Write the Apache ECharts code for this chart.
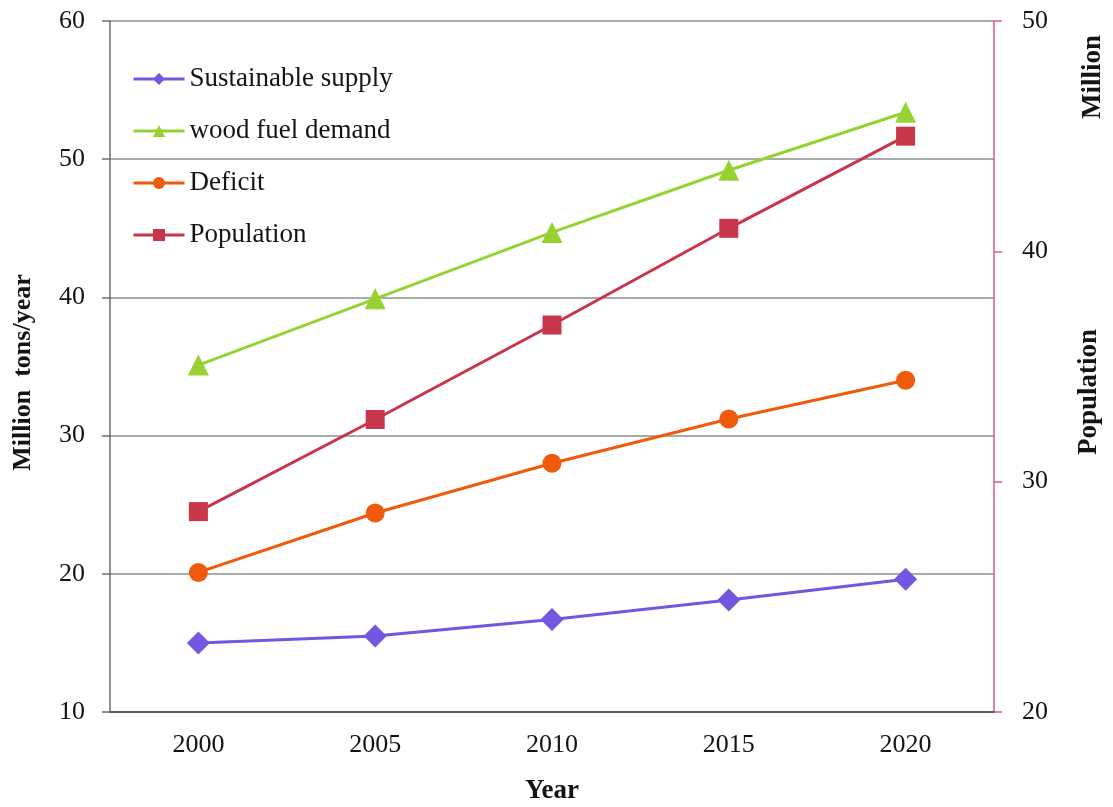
<!DOCTYPE html>
<html>
<head>
<meta charset="utf-8">
<title>Wood fuel supply, demand and population</title>
<script src="https://cdn.jsdelivr.net/npm/echarts@6/dist/echarts.min.js"></script>
<style>
  html, body { margin: 0; padding: 0; background: #ffffff; }
  #chart { width: 1113px; height: 807px; }
</style>
</head>
<body>
<div id="chart"></div>
<script>
// Years on the category axis
const years = ['2000', '2005', '2010', '2015', '2020'];

// Million tons/year (left axis)
const sustainableSupply = [15.0, 15.5, 16.7, 18.1, 19.6];
const woodFuelDemand    = [35.1, 39.9, 44.7, 49.2, 53.4];
const deficit           = [20.1, 24.4, 28.0, 31.2, 34.0];

// Population in millions (right axis)
const population        = [28.7, 32.7, 36.8, 41.0, 45.0];

// Axis ranges
const leftAxisRange  = { min: 10, max: 60, interval: 10 };
const rightAxisRange = { min: 20, max: 50, interval: 10 };

const FONT = '"Liberation Serif", "DejaVu Serif", serif';
const TEXT = '#141414';

const colors = {
  supply: '#7456e0',
  demand: '#95d232',
  deficit: '#ef5a0c',
  population: '#c8364b'
};

const chart = echarts.init(document.getElementById('chart'), null, { renderer: 'canvas' });

function lineSeries(name, data, color, symbol, size, yAxisIndex) {
  return {
    name: name,
    type: 'line',
    data: data,
    yAxisIndex: yAxisIndex,
    symbol: symbol,
    symbolSize: size,
    showAllSymbol: true,
    lineStyle: { color: color, width: 3 },
    itemStyle: { color: color },
    emphasis: { disabled: true },
    z: 3
  };
}

// Rotated title text on the right-hand side
function sideTitle(text, x, y) {
  return {
    type: 'text',
    x: x,
    y: y,
    rotation: Math.PI / 2,
    style: {
      text: text,
      fontFamily: FONT,
      fontSize: 27,
      fontWeight: 'bold',
      fill: TEXT,
      align: 'center',
      verticalAlign: 'middle'
    }
  };
}

chart.setOption({
  animation: false,
  backgroundColor: '#ffffff',
  grid: {
    left: 110, right: 119, top: 21, bottom: 95,
    containLabel: false,
    outerBoundsMode: 'none'
  },
  legend: {
    orient: 'vertical',
    left: 132,
    top: 64,
    padding: 0,
    itemWidth: 51,
    itemHeight: 15,
    itemGap: 22,
    lineStyle: { width: 3 },
    textStyle: { fontFamily: FONT, fontSize: 27, color: TEXT, lineHeight: 30 },
    data: ['Sustainable supply', 'wood fuel demand', 'Deficit', 'Population']
  },
  xAxis: {
    type: 'category',
    data: years,
    boundaryGap: true,
    name: 'Year',
    nameLocation: 'middle',
    nameGap: 66,
    nameTextStyle: { fontFamily: FONT, fontSize: 27, fontWeight: 'bold', color: TEXT },
    axisLine: { lineStyle: { color: '#5a5a5a', width: 2 } },
    axisTick: { alignWithLabel: true, inside: true, length: 6, lineStyle: { color: '#5a5a5a', width: 1.5 } },
    axisLabel: { fontFamily: FONT, fontSize: 26, color: TEXT, margin: 20 },
    splitLine: { show: false }
  },
  yAxis: [
    {
      type: 'value',
      position: 'left',
      min: leftAxisRange.min,
      max: leftAxisRange.max,
      interval: leftAxisRange.interval,
      name: 'Million  tons/year',
      nameLocation: 'middle',
      nameGap: 74,
      nameTextStyle: { fontFamily: FONT, fontSize: 26, fontWeight: 'bold', color: TEXT, padding: [0, 12, 0, 0] },
      axisLine: { show: true, lineStyle: { color: '#6e6e6e', width: 1.5 } },
      axisTick: { show: true, inside: false, length: 8, lineStyle: { color: '#6e6e6e', width: 1.5 } },
      axisLabel: { fontFamily: FONT, fontSize: 26, color: TEXT, margin: 25 },
      splitLine: { show: true, lineStyle: { color: '#a4adab', width: 2 } }
    },
    {
      type: 'value',
      position: 'right',
      min: rightAxisRange.min,
      max: rightAxisRange.max,
      interval: rightAxisRange.interval,
      axisLine: { show: true, lineStyle: { color: '#d2607a', width: 1.5 } },
      axisTick: { show: true, inside: false, length: 8, lineStyle: { color: '#d2607a', width: 1.5 } },
      axisLabel: { fontFamily: FONT, fontSize: 26, color: TEXT, margin: 28 },
      splitLine: { show: false }
    }
  ],
  graphic: [
    sideTitle('Million', 1093, 77),
    sideTitle('Population', 1089, 392)
  ],
  series: [
    lineSeries('Sustainable supply', sustainableSupply, colors.supply, 'diamond', 23, 0),
    lineSeries('wood fuel demand', woodFuelDemand, colors.demand, 'triangle', 21, 0),
    lineSeries('Deficit', deficit, colors.deficit, 'circle', 19, 0),
    lineSeries('Population', population, colors.population, 'rect', 19, 1)
  ]
});
</script>
</body>
</html>
